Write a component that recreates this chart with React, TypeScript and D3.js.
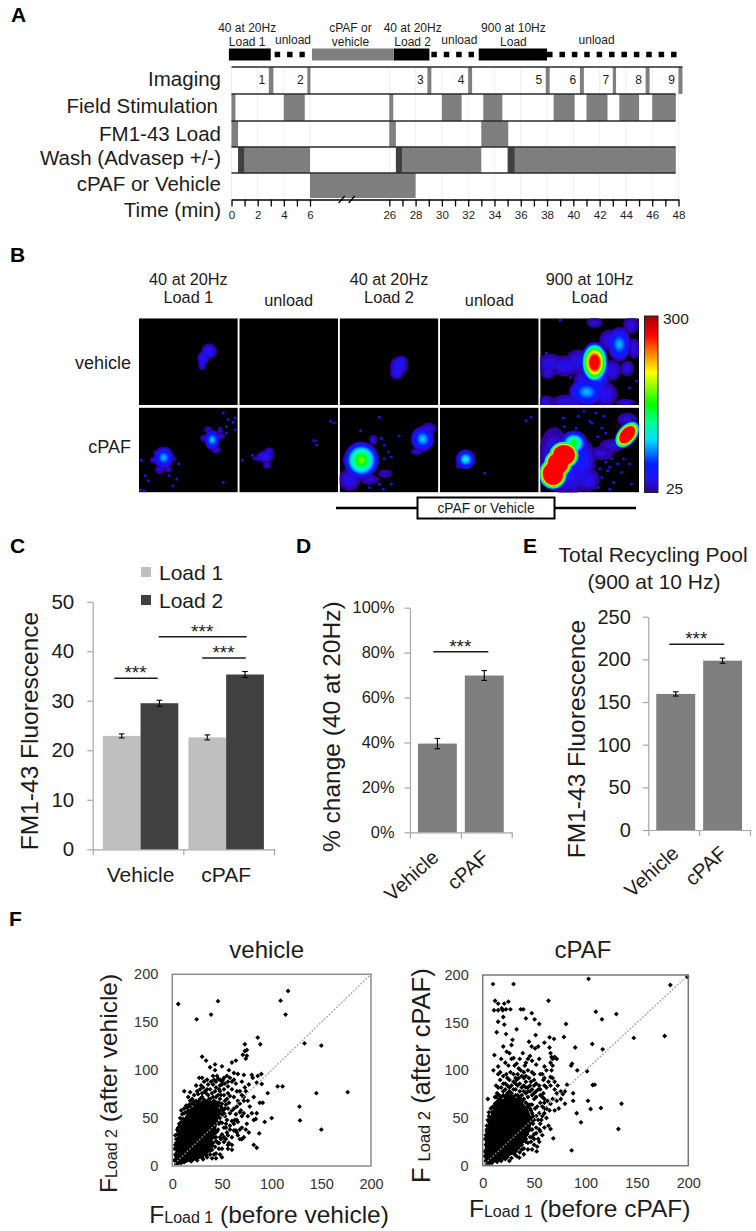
import React, { useEffect, useRef } from 'react';
import * as d3 from 'd3';

const SANS = '"Liberation Sans", Arial, sans-serif';
const INK = '#1c1c1c';

// --- panel A: protocol timeline, all values in minutes
const timeKnots = [0, 6, 26, 48];
const timeTicks = [0, 1, 2, 3, 4, 5, 6, ...d3.range(26, 49)];
const breakMarks = [14, 16.5];
const rowNames = ['Imaging', 'Field Stimulation', 'FM1-43 Load', 'Wash (Advasep +/-)', 'cPAF or Vehicle'];
const imagingBars = [[2.85, 3.2], [5.8, 6.1], [28.9, 29.2], [32, 32.3], [37.9, 38.2], [40.5, 40.8], [43, 43.25], [45.5, 45.8], [48, 48.3]];
const stimBars = [[0, 0.3], [4, 5.6], [26, 26.3], [30, 31.5], [33.15, 34.6], [38.5, 40.1], [41, 42.6], [43.5, 45], [46, 47.8]];
const loadBars = [[0, 0.5], [26, 26.5], [33, 35.05]];
const washDark = [[0.5, 1], [26.5, 27], [35, 35.55]];
const washGray = [[1, 6], [27, 33], [35.55, 47.8]];
const drugBars = [[6, 28]];
const blackBars = [[-0.2, 3], [26.35, 29.05], [32.8, 38.0]];
const grayTopBars = [[6.5, 26.35]];
const dashedBars = [[3.3, 5.6], [29.2, 32.5], [38.0, 47.9]];
const topLabels: [string, number, number][] = [
  ['40 at 20Hz', 1.2, 32], ['Load 1', 1.2, 46], ['unload', 4.7, 44], ['cPAF or', 16.2, 32], ['vehicle', 16.2, 46],
  ['40 at 20Hz', 27.78, 32], ['Load 2', 27.78, 46], ['unload', 31.33, 44], ['900 at 10Hz', 35.44, 32], ['Load', 35.44, 46], ['unload', 41.77, 44],
];

// --- panel B: heat images, blobs as [x%, y%, rx%, ry%, tilt, peak intensity]
type Blob = number[];
const imageCols = ['40 at 20Hz|Load 1', 'unload', '40 at 20Hz|Load 2', 'unload', '900 at 10Hz|Load'];
const imageRows = ['vehicle', 'cPAF'];
const barStops = [25, 45, 70, 107, 135, 162, 212, 242, 270, 300];
const barColors = ['#30009a', '#2410f0', '#0020ff', '#00e0ff', '#00ff90', '#00ff00', '#ffff00', '#ff8000', '#ff0000', '#a00000'];
const vehicleBlobs: Blob[][] = [
  [[71, 38, 8, 9, 20, 56], [65, 46, 6, 9, 10, 60], [64, 53, 4, 7, 0, 48]],
  [],
  [[60, 55, 9, 11, 0, 58], [58, 62, 7, 9, 0, 58], [62, 50, 7, 7, 0, 52]],
  [],
  [
    [10, 52, 14, 11, 0, 48], [25, 55, 15, 12, 0, 50], [38, 50, 12, 14, 0, 50], [8, 62, 8, 8, 0, 46], [6, 97, 8, 8, 0, 44], [28, 97, 18, 9, 0, 48],
    [42, 72, 8, 12, 0, 50], [47, 85, 18, 16, 0, 104], [66, 88, 12, 14, 0, 52], [86, 97, 10, 4, 0, 42], [55, 5, 8, 6, 0, 42], [80, 30, 12, 20, 0, 104],
    [92, 8, 8, 10, 0, 44], [70, 25, 10, 12, 0, 50], [95, 35, 6, 12, 0, 46], [88, 58, 7, 9, 0, 46], [72, 60, 10, 12, 0, 50], [60, 70, 10, 14, 0, 84], [55, 51, 14, 24, 0, 345],
  ],
];
const cpafBlobs: Blob[][] = [
  [
    [25, 59, 10, 13, 0, 104], [18, 53, 4, 3, 0, 40], [33, 60, 5, 3, 0, 40], [21, 73, 5, 5, 0, 42], [29, 72, 4, 4, 0, 40], [15, 62, 4, 4, 0, 42],
    [74, 38, 8, 12, 0, 108], [66, 36, 4, 4, 0, 42], [82, 34, 5, 4, 0, 42], [78, 50, 5, 4, 0, 40], [70, 26, 4, 4, 0, 40], [82, 28, 3, 3, 0, 40],
  ],
  [[26, 58, 9, 7, 0, 56], [20, 60, 7, 3, 0, 42], [30, 52, 5, 5, 0, 46], [28, 68, 4, 4, 0, 40], [76, 39, 3, 1.6, 0, 36], [96, 18, 3, 1.6, 0, 36]],
  [
    [10, 85, 11, 13, 0, 50], [22, 62, 18, 22, 0, 190], [34, 38, 4, 6, 0, 46], [33, 62, 7, 6, 0, 48], [10, 62, 7, 7, 0, 46], [46, 78, 7, 5, 0, 36],
    [30, 85, 9, 6, 0, 40], [84, 37, 12, 15, 0, 108], [90, 25, 8, 7, 0, 46], [78, 52, 6, 4, 0, 40],
  ],
  [[26, 61, 10, 12, 0, 122], [19, 69, 3, 3, 0, 38]],
  [
    [14, 55, 15, 32, 0, 50], [28, 80, 24, 22, 0, 56], [42, 62, 14, 26, 0, 66], [62, 54, 12, 8, 0, 42], [72, 45, 12, 8, 0, 42], [88, 14, 10, 8, 0, 42],
    [34, 42, 14, 15, 0, 168], [48, 85, 12, 14, 0, 52], [13, 78, 15, 19, 0, 600], [18, 66, 15, 18, 0, 600], [24, 56, 16, 17, 0, 600], [88, 32, 10, 19, 40, 500],
  ],
];
const vehicleSpecks: number[][][] = [[], [], [], [], [[20, 2], [6, 40], [97, 72], [30, 68], [76, 62], [90, 80]]];
const cpafSpecks: number[][][] = [
  [[85, 6], [90, 14], [95, 17], [97, 12], [88, 22], [97, 26], [2, 62], [6, 80], [9, 86], [34, 92], [38, 84], [85, 88], [1, 97], [5, 98], [40, 66], [30, 80], [88, 30], [82, 24]],
  [[92, 16], [78, 44], [13, 56], [3, 62]],
  [[40, 11], [21, 27], [42, 36], [45, 44], [49, 52], [52, 58], [60, 33], [45, 60], [50, 75], [48, 78], [40, 90], [52, 90], [38, 84], [44, 96], [30, 94], [8, 96]],
  [[87, 15], [45, 77], [92, 11]],
  [[23, 12], [44, 4], [56, 6], [24, 22], [38, 10], [52, 18], [58, 34], [66, 30], [62, 24], [72, 60], [82, 76], [68, 74], [74, 88], [58, 94], [92, 90], [50, 16], [64, 10], [36, 24], [60, 72], [66, 64], [70, 70], [78, 66], [62, 82], [70, 96], [84, 60], [90, 66]],
];

// --- panels C, D, E: bars
const groupsC = ['Vehicle', 'cPAF'];
const seriesC = ['Load 1', 'Load 2'];
const load1Values = [22.9, 22.6];
const load1Errors = [0.4, 0.5];
const load2Values = [29.5, 35.3];
const load2Errors = [0.6, 0.6];
const changeValues = [39.5, 69.8];
const changeErrors = [2.3, 2.2];
const poolValues = [159.5, 198.5];
const poolErrors = [2.5, 3];

// --- panel F: core = fully overplotted region of the cloud, outline
const vehicleCore = [[2, 1], [3, 14], [4, 28], [7, 38], [12, 50], [18, 60], [27, 66], [36, 66], [44, 63], [50, 58], [46, 48], [44, 38], [41, 28], [38, 15], [30, 8], [15, 4], [6, 1]];
const cpafCore = [[2, 1], [2, 18], [3, 34], [6, 46], [10, 60], [16, 68], [26, 74], [36, 70], [44, 60], [48, 48], [46, 36], [40, 24], [32, 13], [15, 5], [6, 1]];
const vehiclePoints = [
  [6, 169], [24.5, 153], [39, 158], [46, 172], [109, 172.5], [116.5, 182.6], [114, 158], [86, 134], [88.6, 127], [73, 127], [133, 128], [150, 125.6],
  [176.5, 77], [145, 76], [128, 62], [128.5, 47.6], [150, 38], [100, 50], [93, 46], [87.5, 34], [96, 76], [106, 83], [111, 83], [91, 66], [89.6, 96], [86, 94], [85, 87], [90, 85.6],
  [30, 114], [34, 110], [38, 103], [43, 106], [50, 104], [43, 100], [57, 100], [60, 108], [64, 110], [62, 97], [66, 96], [72, 95], [71, 116], [73, 120], [75, 121], [75, 115], [74, 112],
  [81, 92], [80, 95], [27, 92], [24, 84], [32, 88], [36, 85], [35, 80], [42, 90], [44, 88], [46, 91], [48, 90], [50, 85], [52, 92], [55, 94], [58, 92], [60, 88], [64, 86], [70, 88],
  [77, 85], [73, 82], [65, 78], [60, 80], [56, 83], [52, 80], [48, 78], [44, 82], [40, 76], [36, 74], [30, 72], [26, 75], [20, 70], [12, 78], [18, 77], [22, 74], [18, 68], [15, 61],
  [45, 50], [50, 45], [52, 55], [55, 48], [58, 42], [60, 47], [63, 48], [65, 48], [62, 37], [65, 35], [64, 37], [60, 30], [56, 32], [54, 28], [48, 30], [52, 25], [47, 18], [44, 13],
  [50, 9], [42, 12], [60, 17], [70, 28], [72, 30], [68, 28], [77, 35], [82, 48], [84, 49], [80, 55], [76, 52], [72, 55], [70, 52], [76, 68], [82, 72], [88, 66], [68, 65], [72, 72],
  [58, 73], [62, 72], [65, 62], [55, 70], [50, 65], [53, 60], [82, 22], [85, 19], [72, 68], [62, 60], [58, 55], [48, 70], [46, 74], [42, 68], [38, 70], [33, 68], [28, 70], [24, 68],
  [41, 85], [38, 80], [34, 76], [31, 82], [28, 80], [44, 72], [47, 66], [50, 60], [54, 64], [57, 66], [52, 74], [56, 76], [48, 84], [53, 86], [40, 62], [46, 55], [42, 52], [47, 44],
  [52, 40], [55, 35], [46, 38], [50, 33], [44, 30], [41, 24], [46, 24], [43, 20], [50, 18], [40, 17], [38, 12], [35, 9], [31, 7], [25, 6], [19, 5], [12, 4], [8, 6], [4, 10],
  [3, 22], [3, 32], [5, 38], [8, 42], [11, 49], [6, 36], [9, 58], [12, 60], [14, 56], [17, 64], [24, 62], [66, 68], [69, 58], [75, 44], [66, 46], [68, 38], [57, 24], [60, 22],
  [56, 18], [44, 8], [40, 8], [34, 12], [38, 34], [43, 34], [49, 28], [53, 52], [48, 50], [54, 44], [34, 65], [38, 66], [30, 76], [22, 64], [16, 72], [35, 90], [30, 92], [68, 56],
  [2, 6], [3, 12], [2.5, 18], [4, 24], [4, 28], [5, 33], [6, 40], [7, 44], [9, 46], [8, 50], [10, 54], [11, 41], [13, 45], [12, 55], [14, 63], [16, 58], [18, 62], [20, 65], [22, 67], [25, 66],
  [27, 68], [30, 66], [32, 69], [35, 67], [37, 64], [40, 66], [42, 64], [44, 66], [46, 63], [49, 62], [51, 58], [47, 57], [43, 57], [50, 54], [46, 52], [44, 46], [42, 44], [48, 46], [40, 38],
  [42, 36], [45, 36], [39, 32], [42, 30], [38, 26], [37, 22], [40, 21], [36, 18], [38, 16], [33, 14], [34, 11], [30, 9], [27, 10], [24, 8], [21, 7], [17, 7], [14, 6], [10, 5], [7, 4], [9, 3],
  [25, 78], [29, 84], [33, 78], [37, 70], [41, 72], [45, 66], [49, 74], [53, 68], [47, 80], [39, 88], [43, 78], [51, 90], [45, 94], [50, 88], [41, 94], [56, 88], [62, 90], [68, 78], [70, 74],
  [74, 78], [78, 62], [85, 55], [64, 54], [60, 58], [56, 60], [62, 44], [70, 40], [74, 38], [66, 32], [58, 38], [54, 40], [52, 30], [56, 22], [48, 12], [47, 24], [44, 26],
];
const cpafPoints = [
  [10, 190.5], [30, 190.5], [103, 196], [182.5, 189.5], [199, 198], [64, 173], [110, 161.5], [130, 159], [116, 153.5], [81, 148.6], [147, 134], [177, 136], [79, 135], [106.6, 127.6],
  [116.7, 122], [90, 124], [101.5, 99], [92, 100], [87, 107], [86, 105], [135, 65], [132, 38.5], [115, 60.5], [105, 59.5], [102.4, 68], [107, 84.6], [109, 85], [95.6, 45.5], [91.4, 55],
  [88, 68], [86.5, 16], [52.5, 15], [35.6, 8.4], [68.7, 28.7], [66, 38.5], [88, 76], [12, 173], [15, 170], [11, 163], [15, 163], [19.5, 163], [21, 170], [25, 172], [27, 164], [22.7, 164],
  [18.5, 165], [37, 164], [39.5, 164], [42, 154.5], [50.5, 153.5], [47.7, 160], [55, 148.6], [33, 143], [15, 151], [20, 156], [21, 148], [13.6, 140], [22.7, 138], [29, 132], [28, 126.6],
  [51.5, 137], [60, 129], [65, 134.6], [69.4, 133], [45, 130], [47.6, 125], [54, 125], [51, 123], [11.4, 116], [10.4, 100], [20, 125], [23.3, 119.6], [26, 118], [28, 112], [33, 107],
  [31, 105], [17, 98], [15, 96], [36, 112], [30, 113], [46, 115], [44, 112], [42, 108], [48, 110], [52, 106], [65, 124], [66, 118], [67, 114], [68, 112], [70, 114], [72, 112], [66, 108],
  [68, 105], [67, 100], [66, 93], [68, 92], [70, 88], [64, 88], [60, 84], [62, 82], [56, 80], [73, 84], [76, 78], [78, 75], [80, 78], [82, 85], [72, 76], [76, 70], [80, 65], [74, 60], [70, 58],
  [66, 65], [62, 60], [58, 62], [56, 66], [60, 70], [52, 72], [55, 55], [52, 52], [57, 48], [62, 50], [64, 42], [60, 40], [58, 32], [56, 36], [54, 28], [55, 25], [50, 33], [48, 30], [47, 25],
  [44, 24], [42, 28], [40, 18], [38, 22], [36, 14], [33, 10], [28, 8], [22, 7], [14, 4], [9, 3], [5, 70], [7, 42], [3, 28], [4, 38], [5, 48], [6, 52], [8, 60], [10, 55], [12, 65],
  [13, 84], [15, 82], [16, 74], [20, 78], [22, 86], [24, 92], [26, 90], [28, 84], [30, 80], [32, 86], [35, 92], [38, 94], [30, 96], [27, 98], [40, 84], [42, 88], [44, 82], [46, 84], [48, 80],
  [50, 84], [52, 78], [50, 70], [48, 64], [46, 60], [44, 72], [42, 76], [38, 74], [36, 78], [34, 74], [30, 72], [24, 76], [22, 72], [19, 68], [15, 68], [37, 100], [40, 98], [44, 100],
  [48, 98], [50, 96], [35, 102], [33, 90], [45, 92], [53, 62], [56, 74], [59, 76], [47, 50], [49, 44], [52, 40], [46, 38], [43, 33], [50, 22], [44, 17], [40, 12], [34, 18], [38, 28], [26, 5],
  [18, 5], [12, 8], [48, 55], [51, 60], [54, 48], [10, 46], [9, 52], [16, 62], [35, 70], [39, 68], [44, 62], [43, 56], [28, 73], [33, 68], [60, 92], [56, 96], [59, 90],
  [3, 5], [2, 10], [2, 15], [3, 22], [2.5, 28], [3, 32], [4, 36], [4, 42], [6, 46], [6, 56], [8, 50], [9, 56], [10, 62], [12, 62], [14, 67], [13, 72], [16, 70], [18, 72], [20, 74], [23, 74],
  [25, 74], [28, 76], [32, 74], [35, 72], [37, 70], [40, 70], [42, 66], [44, 64], [46, 64], [47, 58], [49, 52], [47, 47], [50, 48], [46, 44], [44, 40], [48, 38], [43, 37], [40, 30], [42, 25],
  [37, 26], [35, 20], [38, 17], [32, 15], [31, 12], [24, 9], [20, 8], [16, 7], [10, 5], [7, 3], [18, 82], [20, 86], [24, 84], [26, 82], [30, 88], [32, 80], [34, 84], [36, 86], [38, 82], [40, 78],
  [42, 82], [44, 78], [46, 78], [48, 74], [50, 76], [54, 80], [22, 80], [26, 78], [14, 76], [12, 72], [17, 90], [20, 94], [23, 96], [32, 92], [34, 96], [40, 92], [42, 94], [47, 88], [50, 90],
  [52, 86], [55, 84], [58, 72], [60, 66], [63, 68], [65, 58], [60, 55], [58, 52], [56, 44], [55, 38], [52, 34], [50, 28], [46, 30], [53, 20], [48, 17], [60, 60], [68, 70], [72, 68], [70, 80],
  [66, 84], [15, 104], [22, 108], [25, 105], [18, 112], [39, 118], [41, 105], [55, 112], [58, 96], [62, 100], [60, 104],
];

function sans(sel: any, size: number, anchor = 'middle', fill = INK) {
  return sel.attr('font-family', SANS).attr('font-size', size).attr('text-anchor', anchor).attr('fill', fill);
}

function drawTimeline(svg: any) {
  const g = svg.append('g');
  const t = d3.scaleLinear().domain(timeKnots).range([231.5, 310, 389.3, 678.5]);
  const rowY = d3.scaleLinear().domain([0, 1, 2, 3, 4, 5]).range([67, 94, 121, 147, 173, 198]);

  g.append('g').selectAll('line').data(timeTicks.filter((d) => d % 2 === 0)).join('line')
    .attr('x1', (d: number) => t(d)).attr('x2', (d: number) => t(d))
    .attr('y1', rowY(0)).attr('y2', rowY(5)).attr('stroke', '#eeeeee');

  const rowBars = (bars: number[][], row: number, fill: string) =>
    g.append('g').selectAll('rect').data(bars).join('rect')
      .attr('x', (d: number[]) => t(d[0])).attr('width', (d: number[]) => t(d[1]) - t(d[0]))
      .attr('y', rowY(row)).attr('height', rowY(row + 1) - rowY(row)).attr('fill', fill);

  rowBars(imagingBars, 0, '#7f7f7f');
  rowBars(stimBars, 1, '#7f7f7f');
  rowBars(loadBars, 2, '#7f7f7f');
  rowBars(washGray, 3, '#7f7f7f');
  rowBars(washDark, 3, '#404040');
  rowBars(drugBars, 4, '#7f7f7f');

  g.append('g').selectAll('line').data([0, 1, 2, 3, 4]).join('line')
    .attr('x1', t(0)).attr('x2', (d: number) => (d === 0 ? t(48) + 4 : t(48) - 3))
    .attr('y1', (d: number) => rowY(d)).attr('y2', (d: number) => rowY(d))
    .attr('stroke', '#2b2b2b').attr('stroke-width', 1.5);

  // header bars above the rows
  g.append('g').selectAll('rect').data(blackBars).join('rect')
    .attr('x', (d: number[]) => t(d[0])).attr('width', (d: number[]) => t(d[1]) - t(d[0]))
    .attr('y', 48.5).attr('height', 12).attr('fill', '#000');
  g.append('g').selectAll('rect').data(grayTopBars).join('rect')
    .attr('x', (d: number[]) => t(d[0])).attr('width', (d: number[]) => t(d[1]) - t(d[0]))
    .attr('y', 48.5).attr('height', 12).attr('fill', '#7f7f7f');
  g.append('g').selectAll('line').data(dashedBars).join('line')
    .attr('x1', (d: number[]) => t(d[0])).attr('x2', (d: number[]) => t(d[1]))
    .attr('y1', 54.5).attr('y2', 54.5).attr('stroke', '#000').attr('stroke-width', 5.5).attr('stroke-dasharray', '5.5 6.9');

  sans(g.append('g').selectAll('text').data(topLabels).join('text')
    .attr('x', (d: any) => t(d[1])).attr('y', (d: any) => d[2]).text((d: any) => d[0]), 12);

  sans(g.append('g').selectAll('text').data(imagingBars).join('text')
    .attr('x', (d: number[]) => t(d[0]) - 7).attr('y', 84).text((_: any, i: number) => String(i + 1)), 12);

  sans(g.append('g').selectAll('text').data(rowNames).join('text')
    .attr('x', (_: any, i: number) => (i === 1 ? 218 : 221))
    .attr('y', (_: any, i: number) => [85.7, 113, 141, 165, 191][i]).text((d: string) => d), 20.5, 'end');
  sans(g.append('text').attr('x', 221).attr('y', 216.7).text('Time (min)'), 20.5, 'end');

  const axis = g.append('g').attr('transform', 'translate(0,199.5)')
    .call(d3.axisBottom(t).tickValues(timeTicks).tickSize(7).tickSizeOuter(0)
      .tickFormat((d: any) => (d % 2 === 0 ? String(d) : '')));
  axis.selectAll('path').attr('stroke', '#000').attr('stroke-width', 1.5);
  axis.selectAll('line').attr('stroke', '#000').attr('stroke-width', 1.3);
  axis.selectAll('text').attr('font-family', SANS).attr('font-size', 11.5).attr('fill', INK).attr('y', 11);

  g.append('g').selectAll('line').data(breakMarks).join('line')
    .attr('x1', (d: number) => t(d) - 3).attr('x2', (d: number) => t(d) + 3)
    .attr('y1', 203).attr('y2', 196).attr('stroke', '#000').attr('stroke-width', 1.2);
}

function drawImages(svg: any) {
  const g = svg.append('g');
  const color = d3.scaleLinear<string>().domain(barStops).range(barColors).clamp(true);
  const colX = d3.scaleBand().domain(d3.range(5).map(String)).range([139, 639]).paddingInner(0.015);
  const rowTop = [318.3, 407.6];
  const rowHeight = [86.7, 84.8];
  const levels = d3.range(25, 273, 5);
  const defs = svg.append('defs');
  defs.append('filter').attr('id', 'soft').append('feGaussianBlur').attr('stdDeviation', 0.7);

  imageRows.forEach((rowName, r) => {
    const blobs = r === 0 ? vehicleBlobs : cpafBlobs;
    const specks = r === 0 ? vehicleSpecks : cpafSpecks;
    imageCols.forEach((_, c) => {
      const left = colX(String(c)) as number;
      const px = d3.scaleLinear().domain([0, 100]).range([left, left + colX.bandwidth()]);
      const py = d3.scaleLinear().domain([0, 100]).range([rowTop[r], rowTop[r] + rowHeight[r]]);
      const id = `clip-${r}-${c}`;
      defs.append('clipPath').attr('id', id).append('rect')
        .attr('x', px(0)).attr('y', py(0)).attr('width', px(100) - px(0)).attr('height', py(100) - py(0));
      const img = g.append('g').attr('clip-path', `url(#${id})`);
      img.append('rect').attr('x', px(0)).attr('y', py(0)).attr('width', px(100) - px(0)).attr('height', py(100) - py(0)).attr('fill', '#000');
      const soft = img.append('g').attr('filter', 'url(#soft)');
      soft.selectAll('rect.speck').data(specks[c]).join('rect').attr('class', 'speck')
        .attr('x', (d: number[]) => px(d[0]) - 1).attr('y', (d: number[]) => py(d[1]) - 1)
        .attr('width', 2.6).attr('height', 2.6).attr('fill', '#2a10e0');
      // painted low to high, so overlapping blobs merge like iso-contours
      levels.forEach((level) => {
        blobs[c].filter((b) => b[5] > level).forEach((b) => {
          const f = (b[5] - level) / (b[5] - 25);
          const k = Math.pow(f, 0.75);
          soft.append('ellipse')
            .attr('cx', 0).attr('cy', 0)
            .attr('rx', (px(b[2]) - px(0)) * k).attr('ry', (py(b[3]) - py(0)) * k)
            .attr('transform', `translate(${px(b[0])},${py(b[1])}) rotate(${b[4]})`)
            .attr('fill', color(level));
        });
      });
    });
    sans(g.append('text').attr('x', 131).attr('y', [369, 453][r]).text(rowName), 18, 'end');
  });

  imageCols.forEach((label, c) => {
    const cx = (colX(String(c)) as number) + colX.bandwidth() / 2;
    const lines = label.split('|');
    lines.forEach((line, i) => {
      const y = lines.length === 1 ? 306 : 285 + i * 18;
      sans(g.append('text').attr('x', cx).attr('y', y).text(line), 16.3);
    });
  });

  // colour bar
  const grad = defs.append('linearGradient').attr('id', 'heatbar').attr('x1', 0).attr('x2', 0).attr('y1', 1).attr('y2', 0);
  barStops.forEach((s, i) => {
    grad.append('stop').attr('offset', (s - 25) / 275).attr('stop-color', barColors[i]);
  });
  const barY = d3.scaleLinear().domain([25, 300]).range([492.5, 316]);
  g.append('rect').attr('x', 644.5).attr('width', 13.5).attr('y', barY(300)).attr('height', barY(25) - barY(300))
    .attr('fill', 'url(#heatbar)').attr('stroke', '#222').attr('stroke-width', 1);
  sans(g.append('text').attr('x', 663).attr('y', barY(300) + 8).text('300'), 15.5, 'start');
  sans(g.append('text').attr('x', 666).attr('y', barY(25) + 1.5).text('25'), 15.5, 'start');

  // treatment bracket
  g.append('line').attr('x1', 336).attr('x2', 636).attr('y1', 508).attr('y2', 508).attr('stroke', '#000').attr('stroke-width', 2.5);
  g.append('rect').attr('x', 417.5).attr('y', 497.5).attr('width', 137).attr('height', 21).attr('fill', '#fff').attr('stroke', '#000').attr('stroke-width', 2);
  sans(g.append('text').attr('x', 486).attr('y', 513).text('cPAF or Vehicle'), 13.8);
}

interface BarOpts {
  x0: number; x1: number; yTop: number; yBottom: number; max: number; ticks: number[]; fmt: (d: number) => string;
  tickFont: number; tickPad: number; padding: number;
}

function barFrame(svg: any, o: BarOpts) {
  const g = svg.append('g');
  const y = d3.scaleLinear().domain([0, o.max]).range([o.yBottom, o.yTop]);
  const x = d3.scaleBand().domain(groupsC).range([o.x0, o.x1]).padding(o.padding);
  const edges = d3.scaleLinear().domain([0, 2]).range([o.x0, o.x1]);
  const left = g.append('g').attr('transform', `translate(${o.x0},0)`)
    .call(d3.axisLeft(y).tickValues(o.ticks).tickSize(5.5).tickSizeOuter(0).tickPadding(o.tickPad).tickFormat(o.fmt as any));
  const bottom = g.append('g').attr('transform', `translate(0,${o.yBottom})`)
    .call(d3.axisBottom(edges).tickValues([0, 1, 2]).tickSize(6).tickSizeOuter(0).tickFormat(() => ''));
  [left, bottom].forEach((a) => {
    a.selectAll('path, line').attr('stroke', '#a6a6a6').attr('stroke-width', 1.2);
  });
  left.selectAll('text').attr('font-family', SANS).attr('font-size', o.tickFont).attr('fill', INK);
  return { g, x, y };
}

function errorBars(g: any, rows: { cx: number; value: number; err: number }[], y: any, cap = 2.8) {
  const e = g.append('g').attr('stroke', '#000').attr('stroke-width', 1.1);
  rows.forEach((r) => {
    e.append('line').attr('x1', r.cx).attr('x2', r.cx).attr('y1', y(r.value - r.err)).attr('y2', y(r.value + r.err));
    [r.value - r.err, r.value + r.err].forEach((v) => {
      e.append('line').attr('x1', r.cx - cap).attr('x2', r.cx + cap).attr('y1', y(v)).attr('y2', y(v));
    });
  });
}

function sigBar(g: any, x1: number, x2: number, y: number) {
  g.append('line').attr('x1', x1).attr('x2', x2).attr('y1', y).attr('y2', y).attr('stroke', '#1a1a1a').attr('stroke-width', 1.5);
  sans(g.append('text').attr('x', (x1 + x2) / 2 - 0.5).attr('y', y + 1).text('***'), 19);
}

function drawBars(svg: any) {
  // C
  const c = barFrame(svg, {
    x0: 92.7, x1: 274, yTop: 601.7, yBottom: 849.3, max: 50, ticks: [0, 10, 20, 30, 40, 50], fmt: String, tickFont: 20.5, tickPad: 13, padding: 0.118,
  });
  const sub = d3.scaleBand().domain(seriesC).range([0, c.x.bandwidth()]);
  const fills = ['#bfbfbf', '#404040'];
  const errRows: { cx: number; value: number; err: number }[] = [];
  groupsC.forEach((grp, i) => {
    const base = c.x(grp) as number;
    [[load1Values, load1Errors], [load2Values, load2Errors]].forEach(([vals, errs], s) => {
      const bx = base + (sub(seriesC[s]) as number);
      c.g.append('rect').attr('x', bx).attr('width', sub.bandwidth()).attr('y', c.y(vals[i]))
        .attr('height', c.y(0) - c.y(vals[i])).attr('fill', fills[s]);
      errRows.push({ cx: bx + sub.bandwidth() / 2, value: vals[i], err: errs[i] });
    });
    sans(c.g.append('text').attr('x', base + c.x.bandwidth() / 2).attr('y', 882).text(grp), 21);
  });
  errorBars(c.g, errRows, c.y);
  sigBar(c.g, 114.3, 157.7, 678.3);
  sigBar(c.g, 158.7, 246.7, 636.7);
  sigBar(c.g, 202.3, 245.7, 658);
  seriesC.forEach((name, i) => {
    const ly = [572, 600][i];
    c.g.append('rect').attr('x', 141).attr('y', ly - 5).attr('width', 10).attr('height', 10).attr('fill', fills[i]);
    sans(c.g.append('text').attr('x', 159).attr('y', ly + 7.5).text(name), 21, 'start');
  });
  sans(c.g.append('text').attr('transform', 'translate(38,731) rotate(-90)').text('FM1-43 Fluorescence'), 24.5);

  // D
  const d = barFrame(svg, {
    x0: 410, x1: 511.7, yTop: 607.7, yBottom: 832.3, max: 100, ticks: [0, 20, 40, 60, 80, 100], fmt: (v) => `${v}%`, tickFont: 16.4, tickPad: 10, padding: 0.17,
  });
  groupsC.forEach((grp, i) => {
    const bx = d.x(grp) as number;
    d.g.append('rect').attr('x', bx).attr('width', d.x.bandwidth()).attr('y', d.y(changeValues[i]))
      .attr('height', d.y(0) - d.y(changeValues[i])).attr('fill', '#7f7f7f');
    sans(d.g.append('text').attr('transform', `translate(${[440, 490][i]},859) rotate(-42)`).text(grp), 20, 'end');
  });
  errorBars(d.g, groupsC.map((grp, i) => ({ cx: (d.x(grp) as number) + d.x.bandwidth() / 2, value: changeValues[i], err: changeErrors[i] })), d.y);
  sigBar(d.g, 433.3, 488.3, 651.7);
  sans(d.g.append('text').attr('transform', 'translate(340,726.7) rotate(-90)').text('% change (40 at 20Hz)'), 24.5);

  // E
  const e = barFrame(svg, {
    x0: 648.3, x1: 750, yTop: 616.7, yBottom: 830, max: 250, ticks: [0, 50, 100, 150, 200, 250], fmt: String, tickFont: 20, tickPad: 12, padding: 0.17,
  });
  groupsC.forEach((grp, i) => {
    const bx = e.x(grp) as number;
    e.g.append('rect').attr('x', bx).attr('width', e.x.bandwidth()).attr('y', e.y(poolValues[i]))
      .attr('height', e.y(0) - e.y(poolValues[i])).attr('fill', '#7f7f7f');
    sans(e.g.append('text').attr('transform', `translate(${[680, 728][i]},855) rotate(-42)`).text(grp), 20, 'end');
  });
  errorBars(e.g, groupsC.map((grp, i) => ({ cx: (e.x(grp) as number) + e.x.bandwidth() / 2, value: poolValues[i], err: poolErrors[i] })), e.y);
  sigBar(e.g, 669.3, 724.3, 644.3);
  sans(e.g.append('text').attr('transform', 'translate(585,739) rotate(-90)').text('FM1-43 Fluorescence'), 24.5);
  sans(e.g.append('text').attr('x', 653).attr('y', 561.7).text('Total Recycling Pool'), 21);
  sans(e.g.append('text').attr('x', 654).attr('y', 589).text('(900 at 10 Hz)'), 21);
}

interface ScatterOpts {
  x0: number; x1: number; yTop: number; yBottom: number; title: string; titleX: number; core: number[][]; points: number[][]; frame: string;
}

// text with a big F and smaller "Load n"
function fLabel(sel: any, sub: string, rest: string, big: number, small: number, gap = 0) {
  sel.attr('font-family', SANS).attr('fill', INK);
  sel.append('tspan').attr('font-size', big).text('F');
  sel.append('tspan').attr('font-size', small).attr('dx', gap).text(sub);
  sel.append('tspan').attr('font-size', big).text(rest);
}

function drawScatter(svg: any, o: ScatterOpts) {
  const g = svg.append('g');
  const x = d3.scaleLinear().domain([0, 200]).range([o.x0, o.x1]);
  const y = d3.scaleLinear().domain([0, 200]).range([o.yBottom, o.yTop]);
  const ticks = [0, 50, 100, 150, 200];
  const line = d3.line().x((d: any) => x(d[0])).y((d: any) => y(d[1])).curve(d3.curveLinearClosed);
  g.append('path').attr('d', line(o.core as any)).attr('fill', '#000');
  const sym = d3.symbol().type(d3.symbolDiamond2).size(15);
  g.append('g').selectAll('path').data(o.points).join('path')
    .attr('transform', (d: number[]) => `translate(${x(d[0])},${y(d[1])})`)
    .attr('d', sym as any).attr('fill', '#000');
  g.append('line').attr('x1', x(0)).attr('y1', y(0)).attr('x2', x(200)).attr('y2', y(200))
    .attr('stroke', '#9a9a9a').attr('stroke-width', 1.3).attr('stroke-dasharray', '1.6 1.8');
  g.append('rect').attr('x', o.x0).attr('y', o.yTop).attr('width', o.x1 - o.x0).attr('height', o.yBottom - o.yTop)
    .attr('fill', 'none').attr('stroke', o.frame).attr('stroke-width', 1.5);
  const left = g.append('g').attr('transform', `translate(${o.x0},0)`)
    .call(d3.axisLeft(y).tickValues(ticks).tickSize(0).tickPadding(14));
  const bottom = g.append('g').attr('transform', `translate(0,${o.yBottom})`)
    .call(d3.axisBottom(x).tickValues(ticks).tickSize(0).tickPadding(12.5));
  [left, bottom].forEach((a) => {
    a.selectAll('path').remove();
    a.selectAll('text').attr('font-family', SANS).attr('font-size', 14.5).attr('fill', '#333');
  });
  sans(g.append('text').attr('x', o.titleX).attr('y', 958).text(o.title), 24);
}

function drawLetters(svg: any) {
  const letters: [string, number, number][] = [['A', 11, 22], ['B', 10, 262], ['C', 10, 553], ['D', 296, 553], ['E', 523, 553], ['F', 9, 926]];
  svg.append('g').selectAll('text').data(letters).join('text')
    .attr('x', (d: any) => d[1]).attr('y', (d: any) => d[2]).text((d: any) => d[0])
    .attr('font-family', SANS).attr('font-size', 21).attr('font-weight', 'bold').attr('fill', '#000');
}

export default function App() {
  const ref = useRef<SVGSVGElement>(null);
  useEffect(() => {
    const svg = d3.select(ref.current);
    svg.selectAll('*').remove();
    drawLetters(svg);
    drawTimeline(svg);
    drawImages(svg);
    drawBars(svg);
    drawScatter(svg, { x0: 172.3, x1: 371, yTop: 974.3, yBottom: 1166, title: 'vehicle', titleX: 266.7, core: vehicleCore, points: vehiclePoints, frame: '#8c8c8c' });
    drawScatter(svg, { x0: 482.7, x1: 688.3, yTop: 975, yBottom: 1165.7, title: 'cPAF', titleX: 583, core: cpafCore, points: cpafPoints, frame: '#777777' });
    fLabel(svg.append('text').attr('transform', 'translate(116.7,1193) rotate(-90)'), 'Load 2', ' (after vehicle)', 24.5, 16);
    fLabel(svg.append('text').attr('transform', 'translate(430,1183) rotate(-90)'), 'Load 2', ' (after cPAF)', 25.5, 16.5, 6);
    fLabel(svg.append('text').attr('x', 149.3).attr('y', 1222.7), 'Load 1', ' (before vehicle)', 24.5, 16);
    fLabel(svg.append('text').attr('x', 469).attr('y', 1217), 'Load 1', ' (before cPAF)', 24.5, 16);
  }, []);
  return <svg ref={ref} width={756} height={1231} style={{ position: 'absolute', left: 0, top: 0, background: '#fff' }} />;
}
